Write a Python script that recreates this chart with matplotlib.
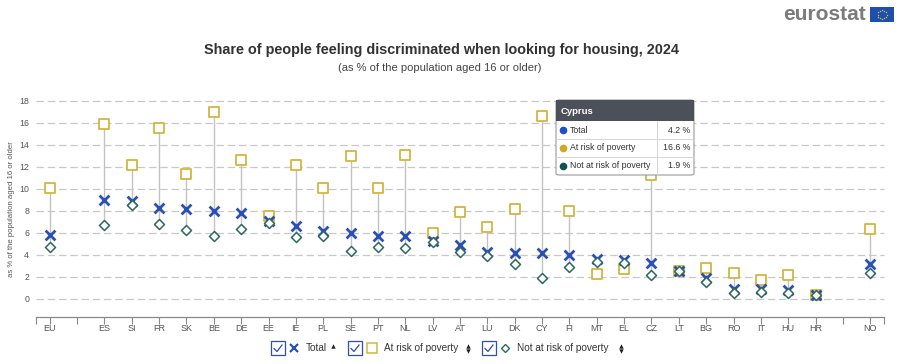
import matplotlib
matplotlib.use("Agg")
import matplotlib.pyplot as plt
from matplotlib.patches import Rectangle, FancyBboxPatch
from matplotlib.lines import Line2D
import numpy as np

plt.rcParams['font.family'] = ['Liberation Sans', 'DejaVu Sans']

categories = ["EU", "", "ES", "SI", "FR", "SK", "BE", "DE", "EE", "IE", "PL", "SE", "PT", "NL",
              "LV", "AT", "LU", "DK", "CY", "FI", "MT", "EL", "CZ", "LT", "BG", "RO", "IT",
              "HU", "HR", "", "NO"]
total = [5.8, None, 9.0, 8.9, 8.3, 8.2, 8.0, 7.8, 7.1, 6.6, 6.2, 6.0, 5.7, 5.7,
         5.3, 4.9, 4.3, 4.2, 4.2, 4.0, 3.6, 3.5, 3.3, 2.5, 1.9, 0.9, 0.9,
         0.8, 0.4, None, 3.2]
at_risk = [10.1, None, 15.9, 12.2, 15.5, 11.4, 17.0, 12.6, 7.5, 12.2, 10.1, 13.0, 10.1, 13.1,
           6.0, 7.9, 6.5, 8.2, 16.6, 8.0, 2.3, 2.7, 11.3, 2.5, 2.8, 2.4, 1.7,
           2.2, 0.4, None, 6.4]
not_at_risk = [4.7, None, 6.7, 8.5, 6.8, 6.3, 5.7, 6.4, 6.9, 5.6, 5.7, 4.4, 4.7, 4.6,
               5.2, 4.3, 3.9, 3.2, 1.9, 2.9, 3.4, 3.3, 2.2, 2.5, 1.5, 0.5, 0.6,
               0.5, 0.4, None, 2.4]
yticks = [0, 2, 4, 6, 8, 10, 12, 14, 16, 18]

W, H = 900, 364
fig = plt.figure(figsize=(W / 100, H / 100), dpi=100)
L, R, T, B = 36, 884, 101, 317
ax = fig.add_axes([L / W, 1 - B / H, (R - L) / W, (B - T) / H])

x = np.arange(len(categories))
ax.set_xlim(-0.5, len(categories) - 0.5)
ax.set_ylim(-1.64, 18)

for yv in yticks:
    ax.axhline(yv, color='#c8c8c8', lw=0.9, ls=(0, (6, 3)), zorder=0.5, clip_on=False)

def arr(v):
    return np.array([np.nan if a is None else a for a in v], dtype=float)

t = arr(total); a = arr(at_risk); n = arr(not_at_risk)
for i in range(len(categories)):
    if np.isnan(t[i]):
        continue
    lo = np.nanmin([t[i], a[i], n[i]]); hi = np.nanmax([t[i], a[i], n[i]])
    ax.plot([x[i], x[i]], [lo, hi], color='#c2c2c2', lw=1.0, zorder=1)

blue = '#2a4fb5'
gold = '#d4b53f'
teal = '#2b6a5f'
ax.scatter(x, t, marker='x', s=50, color=blue, linewidths=2.0, zorder=3)
ax.scatter(x, a, marker='s', s=62, facecolors='white', edgecolors=gold, linewidths=1.3, zorder=2)
ax.scatter(x, n, marker='D', s=26, facecolors='white', edgecolors=teal, linewidths=1.1, zorder=4)

for s in ['top', 'right', 'left']:
    ax.spines[s].set_visible(False)
ax.spines['bottom'].set_color('#888888')
ax.spines['bottom'].set_linewidth(0.9)
ax.set_xticks(list(x) + [-0.5, len(categories) - 0.5])
ax.set_xticklabels(categories + ["", ""], fontsize=6.5, color='#555555')
ax.tick_params(axis='x', length=5, width=0.8, color='#888888', pad=0)
ax.set_yticks(yticks)
ax.set_yticklabels([str(v) for v in yticks], fontsize=6.3, color='#555555')
ax.tick_params(axis='y', length=0, pad=5)
ax.set_ylabel("as % of the population aged 16 or older", fontsize=5.6, color='#555555', labelpad=3)

# Titles
fig.text(441 / W, 1 - 50 / H, "Share of people feeling discriminated when looking for housing, 2024",
         ha='center', va='center', fontsize=10.4, fontweight='bold', color='#333333')
fig.text(440 / W, 1 - 68 / H, "(as % of the population aged 16 or older)",
         ha='center', va='center', fontsize=8.0, color='#444444')

# eurostat logo
fig.text(866 / W, 1 - 14 / H, "eurostat", ha='right', va='center', fontsize=15,
         fontweight='bold', color='#7b7b7b')
fig.patches.append(Rectangle((870 / W, 1 - 22 / H), 24 / W, 15 / H, transform=fig.transFigure,
                             facecolor='#1f4fae', edgecolor='none'))
ang = np.linspace(0, 2 * np.pi, 12, endpoint=False)
fig.add_artist(Line2D((882 + 4.5 * np.cos(ang)) / W, (1 - 14.5 / H) + 4.5 * np.sin(ang) / H,
                      transform=fig.transFigure, ls='none', marker='*', ms=1.6,
                      color='#f2d21a', mec='none'))

# Tooltip
tx0, tx1, ty0, ty1 = 556, 694, 100, 175
fig.patches.append(FancyBboxPatch((tx0 / W, 1 - ty1 / H), (tx1 - tx0) / W, (ty1 - ty0) / H,
                                  boxstyle='round,pad=0,rounding_size=0.004', transform=fig.transFigure,
                                  facecolor='white', edgecolor='#9a9a9a', lw=0.8, zorder=10))
fig.patches.append(Rectangle((tx0 / W, 1 - 121 / H), (tx1 - tx0) / W, 21 / H, transform=fig.transFigure,
                             facecolor='#4c5059', edgecolor='none', zorder=11))
fig.text(561 / W, 1 - 111 / H, "Cyprus", ha='left', va='center', fontsize=6.8,
         fontweight='bold', color='white', zorder=12)
rows = [("Total", "4.2 %", '#1d4fc8'), ("At risk of poverty", "16.6 %", '#d3a91c'),
        ("Not at risk of poverty", "1.9 %", '#0f5358')]
for k, (lab, val, col) in enumerate(rows):
    yy = 130 + k * 18
    fig.add_artist(Line2D([563 / W], [1 - yy / H], transform=fig.transFigure, ls='none', marker='o',
                          ms=4.5, color=col, zorder=12))
    fig.text(570 / W, 1 - yy / H, lab, ha='left', va='center', fontsize=6.3, color='#333333', zorder=12)
    fig.text(690 / W, 1 - yy / H, val, ha='right', va='center', fontsize=6.3, color='#333333', zorder=12)
    if k > 0:
        fig.add_artist(Line2D([tx0 / W, tx1 / W], [1 - (yy - 9) / H] * 2, transform=fig.transFigure,
                              color='#d5d5d5', lw=0.7, zorder=12))
fig.add_artist(Line2D([657 / W, 657 / W], [1 - 121 / H, 1 - ty1 / H], transform=fig.transFigure,
                      color='#d5d5d5', lw=0.7, zorder=12))

# Legend
ly = 348
def checkbox(x0):
    fig.patches.append(Rectangle((x0 / W, 1 - (ly + 7) / H), 14 / W, 14 / H, transform=fig.transFigure,
                                 facecolor='white', edgecolor='#2a4fb5', lw=0.9))
    fig.add_artist(Line2D([(x0 + 3) / W, (x0 + 6) / W, (x0 + 11) / W],
                          [1 - (ly + 0.5) / H, 1 - (ly + 3.5) / H, 1 - (ly - 3) / H],
                          transform=fig.transFigure, color='#2a4fb5', lw=0.9))

def arrow_up(xc):
    fig.add_artist(Line2D([xc / W], [1 - (ly - 2.5) / H], transform=fig.transFigure, ls='none',
                          marker='^', ms=3.2, color='#222222', mec='none'))

def arrow_both(xc):
    fig.add_artist(Line2D([xc / W], [1 - (ly - 2.5) / H], transform=fig.transFigure, ls='none',
                          marker='^', ms=3.2, color='#222222', mec='none'))
    fig.add_artist(Line2D([xc / W], [1 - (ly + 2.5) / H], transform=fig.transFigure, ls='none',
                          marker='v', ms=3.2, color='#222222', mec='none'))

checkbox(271)
fig.add_artist(Line2D([294 / W], [1 - ly / H], transform=fig.transFigure, ls='none', marker='x',
                      ms=6, mew=1.6, color=blue))
fig.text(306 / W, 1 - ly / H, "Total", ha='left', va='center', fontsize=7.2, color='#333333')
arrow_up(333)
checkbox(348)
fig.add_artist(Line2D([372 / W], [1 - ly / H], transform=fig.transFigure, ls='none', marker='s',
                      ms=7, mew=1.1, mfc='none', mec=gold))
fig.text(384 / W, 1 - ly / H, "At risk of poverty", ha='left', va='center', fontsize=7.2, color='#333333')
arrow_both(468)
checkbox(482)
fig.add_artist(Line2D([505 / W], [1 - ly / H], transform=fig.transFigure, ls='none', marker='D',
                      ms=4.5, mew=1.0, mfc='white', mec=teal))
fig.text(517 / W, 1 - ly / H, "Not at risk of poverty", ha='left', va='center', fontsize=7.2, color='#333333')
arrow_both(621)

fig.savefig("out.png", dpi=100)
